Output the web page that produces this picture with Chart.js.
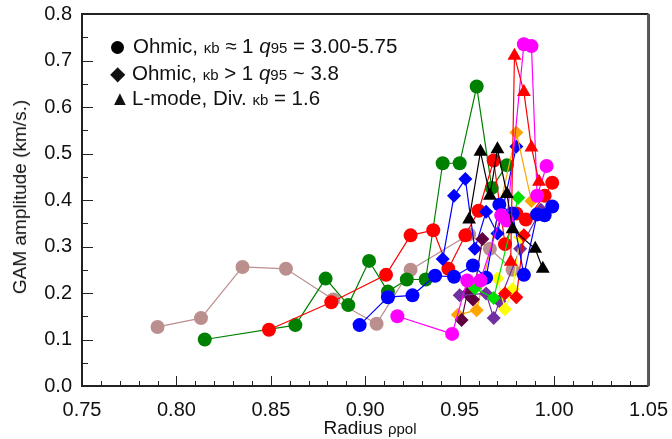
<!DOCTYPE html>
<html>
<head>
<meta charset="utf-8">
<script src="https://cdn.jsdelivr.net/npm/chart.js@4.4.1/dist/chart.umd.min.js"></script>
<style>
  body { margin: 0; background: #fff; }
  #wrap { position: relative; width: 672px; height: 439px; font-family: "Liberation Sans", Arial, sans-serif; color: #111; }
  .leg { position: absolute; left: 111px; font-size: 20.5px; white-space: nowrap; line-height: 22px; }
  .leg .mk { display: inline-block; width: 22px; font-size: 20px; margin-left: -1px; }
  .leg .dot { display: inline-block; width: 13px; height: 13px; border-radius: 50%; background: #000; margin-right: 9px; vertical-align: -1px; }
  .sm { font-size: 15px; }
  #xt { position: absolute; left: 0; width: 740px; text-align: center; top: 417px; font-size: 19px; }
  #yt { position: absolute; left: 20px; top: 197px; font-size: 19px; white-space: nowrap;
        transform: translate(-50%, -50%) rotate(-90deg); }
</style>
</head>
<body>
<div id="wrap">
  <canvas id="grafico" width="672" height="439"></canvas>
  <div class="leg" style="top:35px"><span class="dot"></span>Ohmic, <span class="sm">κb</span> ≈ 1 <i>q</i><span class="sm">95</span> = 3.00-5.75</div>
  <div class="leg" style="top:62px"><span class="mk">◆</span>Ohmic, <span class="sm">κb</span> &gt; 1 <i>q</i><span class="sm">95</span> ~ 3.8</div>
  <div class="leg" style="top:87px"><span class="mk">▲</span>L-mode, Div. <span class="sm">κb</span> = 1.6</div>
  <div id="xt">Radius <span class="sm">ρpol</span></div>
  <div id="yt">GAM amplitude (km/s.)</div>
</div>
<script>
// Marcas dos eixos
const xTicks = [0.75, 0.80, 0.85, 0.90, 0.95, 1.00, 1.05];
const yTicks = [0.0, 0.1, 0.2, 0.3, 0.4, 0.5, 0.6, 0.7, 0.8];

// Ohmic, kb ~ 1 (circulos)
const brownCircles = [[0.790, 0.127], [0.813, 0.146], [0.835, 0.256], [0.858, 0.252], [0.883, 0.186], [0.906, 0.134], [0.924, 0.250], [0.955, 0.326], [0.966, 0.295], [0.978, 0.250]];
const greenCircles = [[0.815, 0.100], [0.863, 0.131], [0.879, 0.231], [0.891, 0.174], [0.902, 0.269], [0.912, 0.203], [0.922, 0.229], [0.932, 0.229], [0.941, 0.479], [0.950, 0.479], [0.959, 0.644], [0.967, 0.426], [0.975, 0.475]];
const redCircles = [[0.849, 0.121], [0.882, 0.180], [0.911, 0.239], [0.924, 0.324], [0.936, 0.335], [0.944, 0.252], [0.953, 0.324], [0.960, 0.377], [0.968, 0.485], [0.974, 0.305], [0.980, 0.371], [0.985, 0.358], [0.995, 0.409], [0.999, 0.437]];
const blueCircles = [[0.897, 0.131], [0.912, 0.191], [0.925, 0.195], [0.937, 0.237], [0.947, 0.235], [0.957, 0.259], [0.964, 0.233], [0.971, 0.390], [0.978, 0.371], [0.984, 0.239], [0.991, 0.369], [0.995, 0.367], [0.999, 0.386]];
const magentaCircles = [[0.917, 0.150], [0.946, 0.112], [0.954, 0.227], [0.961, 0.227], [0.972, 0.367], [0.975, 0.356], [0.984, 0.735], [0.988, 0.731], [0.991, 0.409], [0.996, 0.473]];

// Ohmic, kb > 1 (losangos)
const blueDiamonds = [[0.941, 0.273], [0.947, 0.409], [0.953, 0.445], [0.958, 0.295], [0.964, 0.375], [0.970, 0.328], [0.980, 0.515]];
const orangeDiamonds = [[0.949, 0.153], [0.959, 0.163], [0.980, 0.545], [0.988, 0.398]];
const yellowDiamonds = [[0.970, 0.231], [0.974, 0.165], [0.978, 0.208], [0.982, 0.320]];
const purpleDiamonds = [[0.950, 0.195], [0.964, 0.199], [0.968, 0.146], [0.971, 0.182], [0.982, 0.295], [0.993, 0.379]];
const maroonDiamonds = [[0.951, 0.142], [0.954, 0.199], [0.957, 0.186], [0.962, 0.316]];
const limeDiamonds = [[0.958, 0.210], [0.968, 0.189], [0.981, 0.405]];
const redDiamonds = [[0.974, 0.199], [0.980, 0.191], [0.984, 0.324]];

// L-mode, Div. kb = 1.6 (triangulos)
const blackTriangles = [[0.955, 0.358], [0.961, 0.504], [0.966, 0.409], [0.970, 0.509], [0.975, 0.413], [0.978, 0.337], [0.990, 0.295], [0.994, 0.252]];
const redTriangles = [[0.977, 0.267], [0.979, 0.710], [0.984, 0.632], [0.988, 0.513], [0.992, 0.439]];

function serie(pontos, cor, estilo, raio) {
  return {
    data: pontos.map(p => ({ x: p[0], y: p[1] })),
    showLine: true,
    borderColor: cor,
    backgroundColor: cor,
    borderWidth: 1.2,
    pointStyle: estilo,
    pointRadius: raio,
    pointBorderWidth: 0,
    pointHoverRadius: raio
  };
}

const datasets = [
  serie(blackTriangles, '#000000', 'triangle', 8),
  serie(redTriangles, '#ff0000', 'triangle', 8),
  serie(magentaCircles, '#ff00ff', 'circle', 7),
  serie(blueCircles, '#0000ff', 'circle', 7),
  serie(redDiamonds, '#ff0000', 'rectRot', 7),
  serie(limeDiamonds, '#00e000', 'rectRot', 7),
  serie(yellowDiamonds, '#ffff00', 'rectRot', 7),
  serie(purpleDiamonds, '#7030a0', 'rectRot', 7),
  serie(maroonDiamonds, '#600040', 'rectRot', 7),
  serie(orangeDiamonds, '#ffa500', 'rectRot', 7),
  serie(blueDiamonds, '#0000ff', 'rectRot', 7),
  serie(redCircles, '#ff0000', 'circle', 7),
  serie(greenCircles, '#008000', 'circle', 7),
  serie(brownCircles, '#bc8f8f', 'circle', 7)
];

// Moldura e marcas internas dos eixos
const moldura = {
  id: 'moldura',
  afterDraw(chart) {
    const { ctx, chartArea: a, scales } = chart;
    ctx.save();
    ctx.strokeStyle = '#222';
    ctx.lineWidth = 1;
    for (let v = 0.75; v <= 1.0501; v += 0.01) {
      const px = Math.round(scales.x.getPixelForValue(v)) + 0.5;
      const major = Math.abs(v * 20 - Math.round(v * 20)) < 0.01;
      ctx.beginPath();
      ctx.moveTo(px, a.bottom);
      ctx.lineTo(px, a.bottom - (major ? 10 : 5));
      ctx.stroke();
    }
    for (let v = 0; v <= 0.8001; v += 0.05) {
      const py = Math.round(scales.y.getPixelForValue(v)) + 0.5;
      const major = Math.abs(v * 10 - Math.round(v * 10)) < 0.01;
      ctx.beginPath();
      ctx.moveTo(a.left, py);
      ctx.lineTo(a.left + (major ? 11 : 6), py);
      ctx.stroke();
    }
    ctx.lineWidth = 2;
    ctx.strokeStyle = '#222';
    ctx.beginPath();
    ctx.moveTo(a.right, a.top);
    ctx.lineTo(a.left, a.top);
    ctx.lineTo(a.left, a.bottom);
    ctx.lineTo(a.right, a.bottom);
    ctx.stroke();
    ctx.lineWidth = 3;
    ctx.strokeStyle = '#555';
    ctx.beginPath();
    ctx.moveTo(a.right, a.top);
    ctx.lineTo(a.right, a.bottom);
    ctx.stroke();
    ctx.restore();
  }
};

const fonteTicks = { family: '"Liberation Sans", Arial, sans-serif', size: 20 };

new Chart(document.getElementById('grafico').getContext('2d'), {
  type: 'scatter',
  data: { datasets },
  options: {
    responsive: false,
    animation: false,
    devicePixelRatio: 1,
    layout: { padding: { top: 8, right: 23, left: 0, bottom: 0 } },
    plugins: { legend: { display: false }, tooltip: { enabled: false } },
    scales: {
      x: {
        type: 'linear', min: 0.75, max: 1.05,
        grid: { display: false }, border: { display: false },
        afterBuildTicks: s => { s.ticks = xTicks.map(v => ({ value: v })); },
        afterFit: s => { s.height = 53; },
        ticks: { color: '#111', font: fonteTicks, padding: 4, maxRotation: 0, callback: v => v.toFixed(2) }
      },
      y: {
        type: 'linear', min: 0, max: 0.8,
        grid: { display: false }, border: { display: false },
        afterBuildTicks: s => { s.ticks = yTicks.map(v => ({ value: v })); },
        afterFit: s => { s.width = 82; },
        ticks: { color: '#111', font: fonteTicks, padding: 2, callback: v => v.toFixed(1) }
      }
    }
  },
  plugins: [moldura]
});
</script>
</body>
</html>
